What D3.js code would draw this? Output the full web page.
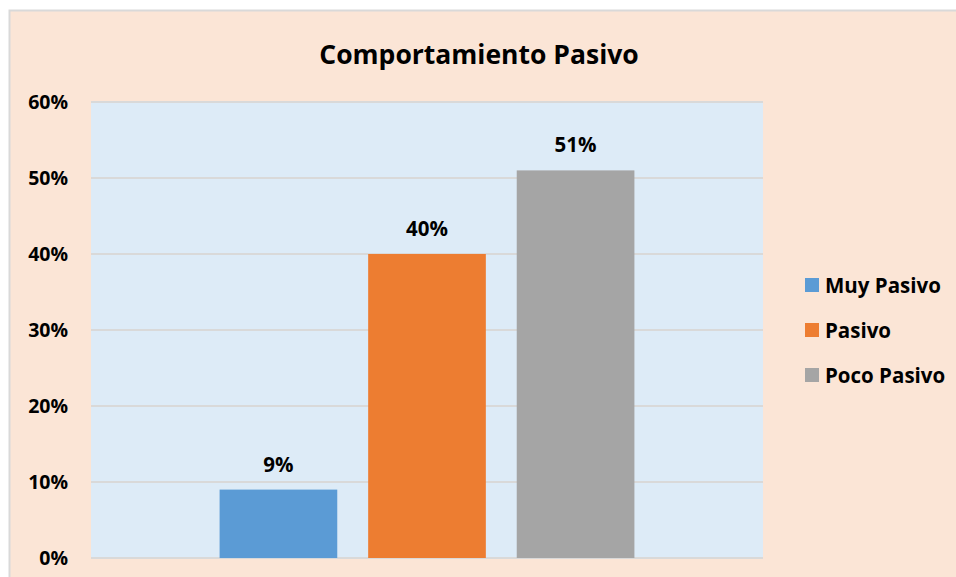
<!DOCTYPE html>
<html>
<head>
<meta charset="utf-8">
<script src="https://cdn.jsdelivr.net/npm/d3@7"></script>
<style>
  body { margin: 0; background: #fff; }
  text { font-family: "Open Sans", Lato, sans-serif; font-weight: bold; fill: #000; }
</style>
</head>
<body>
<div id="chart-area"></div>
<script>
// data
const categories = [""];
const series = ["Muy Pasivo", "Pasivo", "Poco Pasivo"];
const values = [0.09, 0.40, 0.51];
const tickValues = [0, 0.1, 0.2, 0.3, 0.4, 0.5, 0.6];

const colors = ["#5B9BD5", "#ED7D31", "#A5A5A5"];

const width = 956, height = 577;
const plot = { left: 91, right: 763, top: 102, bottom: 558 };

const svg = d3.select("#chart-area").append("svg")
  .attr("width", width)
  .attr("height", height);

// chart background + border
svg.append("rect")
  .attr("x", 9.5).attr("y", 10.5)
  .attr("width", width).attr("height", height)
  .attr("fill", "#FBE5D6")
  .attr("stroke", "#D9D9D9")
  .attr("stroke-width", 2);

// plot area
svg.append("rect")
  .attr("x", plot.left).attr("y", plot.top)
  .attr("width", plot.right - plot.left)
  .attr("height", plot.bottom - plot.top)
  .attr("fill", "#DDEBF7");

const y = d3.scaleLinear()
  .domain([0, 0.6])
  .range([plot.bottom, plot.top]);

const x0 = d3.scaleBand()
  .domain(categories)
  .range([plot.left, plot.right])
  .paddingOuter(0.31);

const x1 = d3.scaleBand()
  .domain(series)
  .range([0, x0.bandwidth()])
  .paddingInner(0.208)
  .paddingOuter(0);

// gridlines
svg.append("g")
  .selectAll("line")
  .data(tickValues)
  .enter().append("line")
  .attr("x1", plot.left).attr("x2", plot.right)
  .attr("y1", d => y(d)).attr("y2", d => y(d))
  .attr("stroke", "#D9D9D9")
  .attr("stroke-width", 2);

// y axis labels
const yAxis = d3.axisLeft(y)
  .tickValues(tickValues)
  .tickFormat(d3.format(".0%"))
  .tickSize(0)
  .tickPadding(23);

const gy = svg.append("g")
  .attr("transform", `translate(${plot.left},0)`)
  .call(yAxis);
gy.select(".domain").remove();
gy.selectAll("text")
  .attr("font-size", 19.5)
  .attr("font-family", "'Open Sans', sans-serif")
  .attr("font-weight", "bold")
  .attr("fill", "#000");

// bars
const bars = series.map((s, i) => ({ s, v: values[i], c: colors[i] }));

svg.append("g")
  .selectAll("rect")
  .data(bars)
  .enter().append("rect")
  .attr("x", d => x0(categories[0]) + x1(d.s))
  .attr("y", d => y(d.v))
  .attr("width", x1.bandwidth())
  .attr("height", d => y(0) - y(d.v))
  .attr("fill", d => d.c);

// data labels
svg.append("g")
  .selectAll("text")
  .data(bars)
  .enter().append("text")
  .attr("x", d => x0(categories[0]) + x1(d.s) + x1.bandwidth() / 2)
  .attr("y", d => y(d.v) - 18)
  .attr("text-anchor", "middle")
  .attr("font-size", 20.5)
  .text(d => d3.format(".0%")(d.v));

// title
svg.append("text")
  .attr("x", 479)
  .attr("y", 64)
  .attr("text-anchor", "middle")
  .attr("font-size", 26.5)
  .text("Comportamiento Pasivo");

// legend
const legend = svg.append("g")
  .selectAll("g")
  .data(bars)
  .enter().append("g")
  .attr("transform", (d, i) => `translate(805,${285 + i * 45})`);

legend.append("rect")
  .attr("x", 0).attr("y", -7)
  .attr("width", 14).attr("height", 14)
  .attr("fill", d => d.c);

legend.append("text")
  .attr("x", 20)
  .attr("y", 7.5)
  .attr("font-size", 20.5)
  .text(d => d.s);
</script>
</body>
</html>
